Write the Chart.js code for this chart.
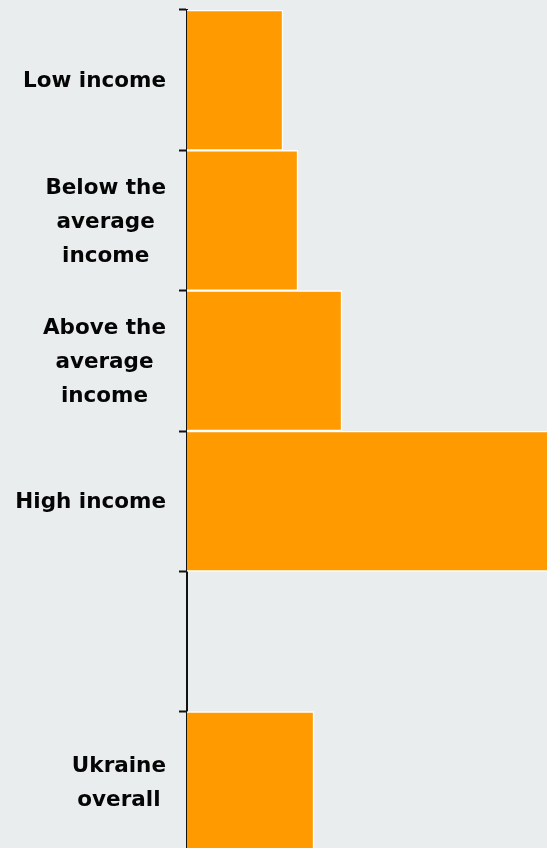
<!DOCTYPE html>
<html lang="en">
<head>
    <meta charset="UTF-8">
    <title>Income groups</title>
    <style>
        html, body { margin: 0; padding: 0; background: #e9edee; overflow: hidden; }
        #wrap { width: 547px; height: 848px; overflow: hidden; }
    </style>
</head>
<body>
<div id="wrap">
    <canvas id="chart" width="547" height="852"></canvas>
</div>

<script src="https://cdn.jsdelivr.net/npm/chart.js"></script>
<script>
    // categories (the blank one is a spacer row in the original)
    const groups = [
        'Low income',
        ['Below the', 'average', 'income'],
        ['Above the', 'average', 'income'],
        'High income',
        '',
        ['Ukraine', 'overall']
    ];
    const shares = [9.6, 11.1, 15.5, 38, null, 12.7];
    const xMax = 36;

    const barColor = '#ff9b00';
    const labelFont = 'bold 21.5px "DejaVu Sans", sans-serif';
    const lineGap = 34;

    // labels: block right-aligned to the axis, lines centred inside the block
    const blockLabels = {
        id: 'blockLabels',
        afterDraw(chart) {
            const ctx = chart.ctx;
            const y = chart.scales.y;
            const right = y.right - 8 - 13;
            ctx.save();
            ctx.font = labelFont;
            ctx.fillStyle = '#050505';
            ctx.textBaseline = 'middle';
            ctx.textAlign = 'center';
            groups.forEach((g, i) => {
                const lines = Array.isArray(g) ? g : [g];
                if (!lines[0]) return;
                const w = Math.max(...lines.map(l => ctx.measureText(l).width));
                const cx = right - w / 2;
                const cy = y.getPixelForValue(i) + 1.5;
                lines.forEach((l, k) => {
                    ctx.fillText(l, cx, cy + (k - (lines.length - 1) / 2) * lineGap);
                });
            });
            ctx.restore();
        }
    };

    new Chart(document.getElementById('chart'), {
        type: 'bar',
        data: {
            labels: groups,
            datasets: [{
                data: shares,
                backgroundColor: barColor,
                borderColor: '#ffffff',
                borderWidth: 1.5,
                barPercentage: 1,
                categoryPercentage: 1
            }]
        },
        options: {
            indexAxis: 'y',
            responsive: false,
            animation: false,
            layout: { padding: { top: 10, right: 0, bottom: 0, left: 0 } },
            plugins: {
                legend: { display: false },
                tooltip: { enabled: false }
            },
            scales: {
                x: { display: false, min: 0, max: xMax },
                y: {
                    grid: {
                        offset: true,
                        drawOnChartArea: false,
                        tickLength: 8,
                        tickColor: '#111',
                        tickWidth: 2
                    },
                    border: { display: true, color: '#111', width: 2 },
                    ticks: { color: 'rgba(0,0,0,0)' },
                    afterFit: (scale) => {
                        scale.width = 187;
                        scale.paddingTop = 0;
                        scale.paddingBottom = 0;
                    }
                }
            }
        },
        plugins: [blockLabels]
    });
</script>
</body>
</html>
